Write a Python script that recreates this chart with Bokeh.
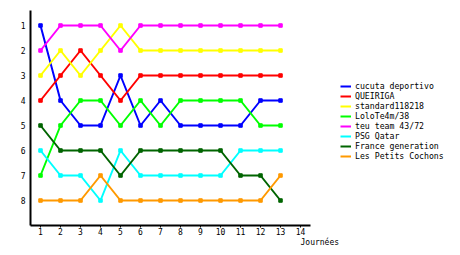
from bokeh.plotting import figure
from bokeh.models import Range1d, Legend, LegendItem, Title, FixedTicker
from bokeh.embed import file_html
from bokeh.resources import INLINE

days = list(range(1, 14))
x_ticks = list(range(1, 15))
y_ticks = list(range(1, 9))

teams = ["cucuta deportivo", "QUEIRIGA", "standard118218", "LoloTe4m/38",
         "teu team 43/72", "PSG Qatar", "France generation", "Les Petits Cochons"]
colors = ["#0000FF", "#FF0000", "#FFFF00", "#00FF00",
          "#FF00FF", "#00FFFF", "#006400", "#FF9900"]

cucuta = [1, 4, 5, 5, 3, 5, 4, 5, 5, 5, 5, 4, 4]
queiriga = [4, 3, 2, 3, 4, 3, 3, 3, 3, 3, 3, 3, 3]
standard = [3, 2, 3, 2, 1, 2, 2, 2, 2, 2, 2, 2, 2]
lolo = [7, 5, 4, 4, 5, 4, 5, 4, 4, 4, 4, 5, 5]
teu = [2, 1, 1, 1, 2, 1, 1, 1, 1, 1, 1, 1, 1]
psg = [6, 7, 7, 8, 6, 7, 7, 7, 7, 7, 6, 6, 6]
france = [5, 6, 6, 6, 7, 6, 6, 6, 6, 6, 7, 7, 8]
cochons = [8, 8, 8, 7, 8, 8, 8, 8, 8, 8, 8, 8, 7]
series = [cucuta, queiriga, standard, lolo, teu, psg, france, cochons]

FONT = "DejaVu Sans Mono"

p = figure(frame_width=280, frame_height=215, output_backend="svg",
           toolbar_location=None,
           x_range=Range1d(0.5, 14.5), y_range=Range1d(9, 0.4),
           min_border_left=30, min_border_right=150, min_border_top=10,
           min_border_bottom=30)
p.outline_line_color = None
p.grid.visible = False
p.background_fill_color = "white"
p.border_fill_color = "white"

for ax in (p.xaxis[0], p.yaxis[0]):
    ax.axis_line_color = "black"
    ax.axis_line_width = 2
    ax.minor_tick_line_color = None
    ax.major_label_text_font = FONT
    ax.major_label_text_font_size = "8px"
    ax.major_label_text_color = "black"

p.xaxis.ticker = FixedTicker(ticks=x_ticks)
p.xaxis.major_tick_out = 2
p.xaxis.major_tick_in = 0
p.xaxis.major_tick_line_color = "black"
p.xaxis.major_label_standoff = 0

p.yaxis.ticker = FixedTicker(ticks=y_ticks)
p.yaxis.major_tick_out = 0
p.yaxis.major_tick_in = 0
p.yaxis.major_tick_line_color = None
p.yaxis.major_label_standoff = 5

items = []
for name, col, ys in zip(teams, colors, series):
    r = p.line(days, ys, line_color=col, line_width=2)
    p.scatter(days, ys, marker="square", size=3.5, fill_color=col, line_color=col)
    items.append(LegendItem(label=name, renderers=[r]))

legend = Legend(items=items, location=(30, 64), orientation="vertical",
                label_text_font=FONT, label_text_font_size="8.2px",
                label_text_color="black",
                glyph_width=11, glyph_height=10, label_height=10,
                label_standoff=4, spacing=0, padding=0, margin=0,
                border_line_alpha=0, background_fill_alpha=0)
p.add_layout(legend, "right")

p.add_layout(Title(text="Journées", align="left", offset=270,
                   text_font=FONT, text_font_size="8px", text_font_style="normal",
                   text_color="black", standoff=-4), "below")

open("out.html", "w").write(file_html(p, INLINE))
